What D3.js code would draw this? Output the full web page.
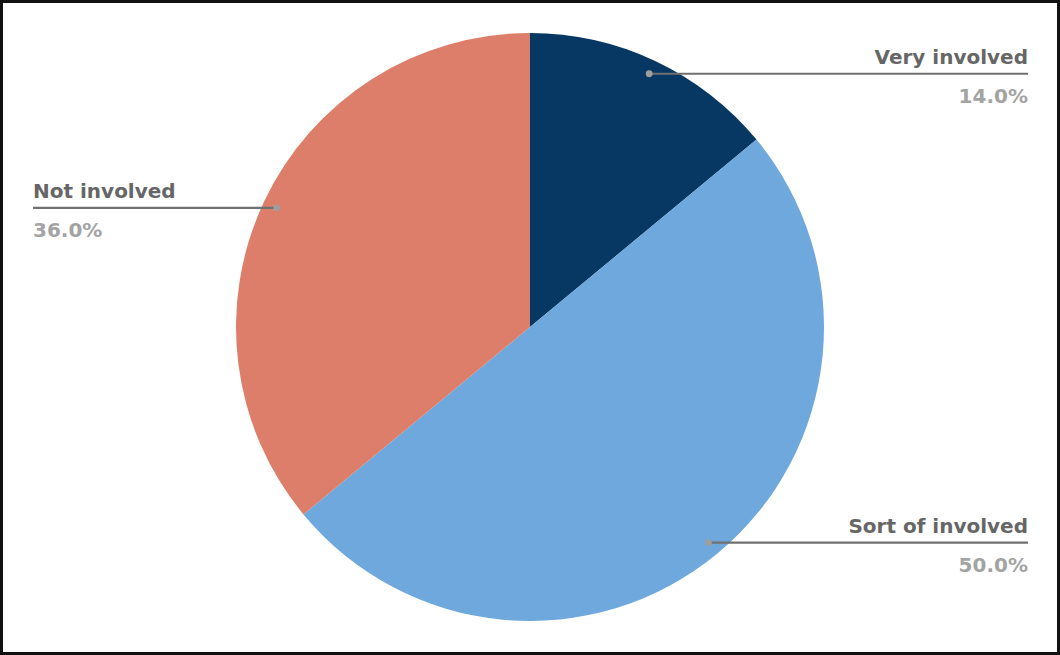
<!DOCTYPE html>
<html><head><meta charset="utf-8">
<script src="https://cdn.jsdelivr.net/npm/d3@7"></script>
<style>
html,body{margin:0;padding:0;background:#fff;}
svg{display:block;}
</style></head>
<body>
<svg id="chart" width="1060" height="655"></svg>
<script>
const categories = ["Very involved", "Sort of involved", "Not involved"];
const values = [14.0, 50.0, 36.0];
const colors = ["#073763", "#6fa8dc", "#dd7e6b"];

const W = 1060, H = 655;
const svg = d3.select("#chart");
svg.append("rect").attr("x",1.5).attr("y",1.5).attr("width",W-3).attr("height",H-3)
  .attr("fill","#fff").attr("stroke","#111").attr("stroke-width",3);

const cx = 530, cy = 327, R = 294;
const g = svg.append("g").attr("transform",`translate(${cx},${cy})`);
const pie = d3.pie().sort(null).value(d=>d.v);
const data = pie(categories.map((c,i)=>({c, v:values[i], col:colors[i]})));
const arc = d3.arc().innerRadius(0).outerRadius(R);
g.selectAll("path").data(data).join("path")
  .attr("d", arc).attr("fill", d=>d.data.col);

const dotR = R*0.952;
const fmt = d3.format(".1f");
data.forEach(d=>{
  const a = (d.startAngle + d.endAngle)/2;
  const px = Math.sin(a)*dotR, py = -Math.cos(a)*dotR;
  const right = px > 0;
  const endX = right ? 1028 - cx : 33 - cx;
  g.append("line").attr("x1",px).attr("y1",py).attr("x2",endX).attr("y2",py)
    .attr("stroke","#707070").attr("stroke-width",2.2);
  g.append("circle").attr("cx",px).attr("cy",py).attr("r",3.4).attr("fill","#9e9e9e");
  g.append("text").attr("x",endX).attr("y",py-10)
    .attr("text-anchor", right ? "end" : "start")
    .attr("font-family","DejaVu Sans, Verdana, sans-serif").attr("font-weight","bold")
    .attr("font-size",20).attr("fill","#666").text(d.data.c);
  g.append("text").attr("x",endX).attr("y",py+29)
    .attr("text-anchor", right ? "end" : "start")
    .attr("font-family","DejaVu Sans, Verdana, sans-serif").attr("font-weight","bold")
    .attr("font-size",20).attr("fill","#a3a3a3").text(fmt(d.data.v)+"%");
});
</script>
</body></html>
